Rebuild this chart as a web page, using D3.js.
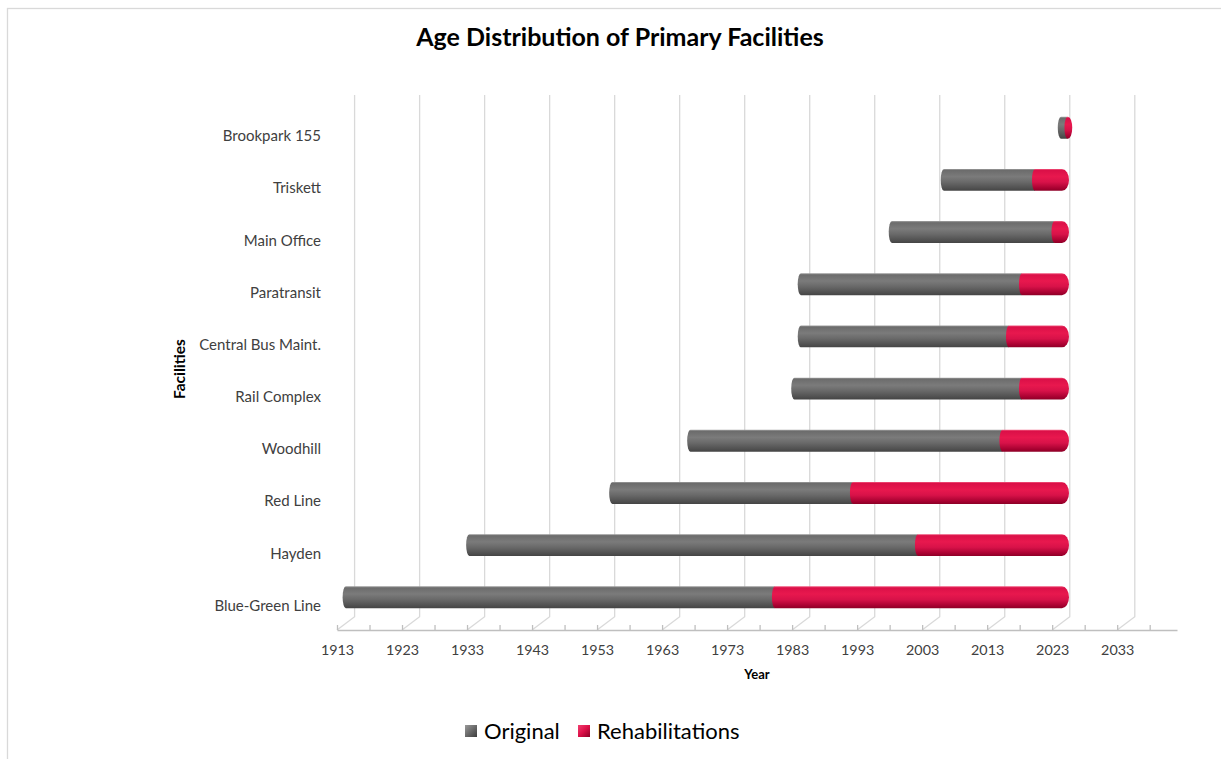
<!DOCTYPE html>
<html>
<head>
<meta charset="utf-8">
<script src="https://cdn.jsdelivr.net/npm/d3@7"></script>
<style>
  body { margin: 0; background: #fff; }
  svg { display: block; font-family: Lato, "Open Sans", sans-serif; }
</style>
</head>
<body>
<svg width="1221" height="759"></svg>
<script>
// facilities, bottom to top
var categories = ["Blue-Green Line", "Hayden", "Red Line", "Woodhill", "Rail Complex",
  "Central Bus Maint.", "Paratransit", "Main Office", "Triskett", "Brookpark 155"];
var builtYear = [1913, 1932, 1954, 1966, 1982, 1983, 1983, 1997, 2005, 2023];
var originalYears = [66, 69, 37, 48, 35, 32, 34, 25, 14, 1];
var rehabYears = [45, 23, 33, 10, 7, 9, 7, 2, 5, 0.5];
var tickYears = [1913, 1923, 1933, 1943, 1953, 1963, 1973, 1983, 1993, 2003, 2013, 2023, 2033];
var seriesNames = ["Original", "Rehabilitations"];

var svg = d3.select("svg"),
    plotLeft = 337, plotRight = 1177, plotTop = 108.3, plotBottom = 630,
    depth = {x: 17.6, y: -13.3};

var x = d3.scaleLinear().domain([1913, 2042.2]).range([plotLeft, plotRight]);
var y = d3.scaleBand()
    .domain(categories.slice().reverse())
    .range([plotTop, plotBottom])
    .paddingInner(0.58)
    .paddingOuter(0.29);

var defs = svg.append("defs");
function grad(id, stops, x2, y2) {
  var g = defs.append("linearGradient").attr("id", id)
    .attr("x1", 0).attr("y1", 0).attr("x2", x2).attr("y2", y2);
  stops.forEach(function(s) {
    g.append("stop").attr("offset", s[0]).attr("stop-color", s[1]);
  });
}
grad("gGray", [[0, "#a0a0a0"], [0.07, "#6c6c6c"], [0.35, "#7b7b7b"], [0.6, "#696969"], [0.9, "#4e4e4e"], [1, "#444"]], 0, 1);
grad("gRed", [[0, "#f25a80"], [0.07, "#db1048"], [0.35, "#e8184e"], [0.6, "#d81249"], [0.9, "#a4002f"], [1, "#8c0026"]], 0, 1);
grad("lGray", [[0, "#9a9a9a"], [0.5, "#6a6a6a"], [1, "#3c3c3c"]], 1, 1);
grad("lRed", [[0, "#f24070"], [0.5, "#dc1048"], [1, "#8c0026"]], 1, 1);

// chart border
svg.append("rect")
  .attr("x", 7.5).attr("y", 8.5).attr("width", 1400).attr("height", 900)
  .attr("fill", "none").attr("stroke", "#d9d9d9").attr("stroke-width", 1.3);

// back wall gridlines with floor diagonals
svg.append("g").selectAll("path")
  .data(tickYears)
  .enter().append("path")
    .attr("d", function(d) {
      var xf = x(d);
      return "M" + xf + "," + plotBottom + "L" + (xf + depth.x) + "," + (plotBottom + depth.y) +
        "L" + (xf + depth.x) + "," + (plotTop + depth.y);
    })
    .attr("fill", "none")
    .attr("stroke", "#d9d9d9")
    .attr("stroke-width", 1.3);

// x axis
var xAxis = svg.append("g")
  .attr("transform", "translate(0," + plotBottom + ")")
  .call(d3.axisBottom(x)
    .tickValues(d3.range(1913, 2042, 5))
    .tickFormat(function(d) { return (d - 1913) % 10 === 0 ? d : ""; })
    .tickSizeInner(-5)
    .tickSizeOuter(0)
    .tickPadding(15));
xAxis.select(".domain").attr("stroke", "#bfbfbf").attr("stroke-width", 1.3);
xAxis.selectAll(".tick line").attr("stroke", "#bfbfbf").attr("stroke-width", 1.3);
xAxis.selectAll("text").attr("font-size", 14.3).attr("fill", "#404040")
  .attr("font-family", "Lato, sans-serif");

// y axis labels
var yAxis = svg.append("g")
  .attr("transform", "translate(321,2)")
  .call(d3.axisLeft(y).tickSize(0).tickPadding(0));
yAxis.select(".domain").remove();
yAxis.selectAll("text").attr("font-size", 15).attr("fill", "#404040")
  .attr("font-family", "Lato, sans-serif");

// cylinder segments
function seg(xa, xb, t, b, rl, rr) {
  var ry = (b - t) / 2;
  var p = "M" + xa + "," + b;
  p += "A" + rl + "," + ry + " 0 0 1 " + xa + "," + t;
  if (rr > 0) {
    p += "L" + (xb - rr) + "," + t;
    p += "A" + rr + "," + ry + " 0 0 1 " + (xb - rr) + "," + b;
  } else {
    p += "L" + xb + "," + t + "L" + xb + "," + b;
  }
  return p + "Z";
}

var bars = categories.map(function(c, i) {
  return {
    name: c,
    start: builtYear[i],
    rehab: builtYear[i] + originalYears[i],
    end: builtYear[i] + originalYears[i] + rehabYears[i]
  };
});

var bw = y.bandwidth();
var barG = svg.append("g").selectAll("g")
  .data(bars)
  .enter().append("g")
    .attr("transform", function(d) {
      return "translate(" + (depth.x / 2) + "," + (y(d.name) + depth.y / 2) + ")";
    });

barG.append("path")
  .attr("d", function(d) { return seg(x(d.start), x(d.rehab), 0, bw, 3.2, 0); })
  .attr("fill", "url(#gGray)");

barG.append("path")
  .attr("d", function(d) {
    var xb = x(d.end) + 1.5;
    var rr = Math.min(7, (xb - x(d.rehab)) * 0.9);
    return seg(x(d.rehab), xb, 0, bw, 3, rr);
  })
  .attr("fill", "url(#gRed)");

// titles
svg.append("text")
  .attr("x", 620).attr("y", 46)
  .attr("text-anchor", "middle")
  .attr("font-size", 25).attr("font-weight", "bold").attr("fill", "#000")
  .text("Age Distribution of Primary Facilities");

svg.append("text")
  .attr("x", (plotLeft + plotRight) / 2).attr("y", 679)
  .attr("text-anchor", "middle")
  .attr("font-size", 13).attr("font-weight", "bold").attr("fill", "#000")
  .text("Year");

svg.append("text")
  .attr("transform", "translate(185," + ((plotTop + plotBottom) / 2) + ") rotate(-90)")
  .attr("text-anchor", "middle")
  .attr("font-size", 15.5).attr("font-weight", "bold").attr("fill", "#000")
  .text("Facilities");

// legend
var legend = svg.append("g").selectAll("g")
  .data(seriesNames)
  .enter().append("g")
    .attr("transform", function(d, i) { return "translate(" + (i === 0 ? 465 : 578) + ",725)"; });

legend.append("rect")
  .attr("width", 12).attr("height", 12)
  .attr("fill", function(d, i) { return i === 0 ? "url(#lGray)" : "url(#lRed)"; });

legend.append("text")
  .attr("x", 19).attr("y", 13.5)
  .attr("font-size", 22).attr("fill", "#000")
  .text(function(d) { return d; });
</script>
</body>
</html>
